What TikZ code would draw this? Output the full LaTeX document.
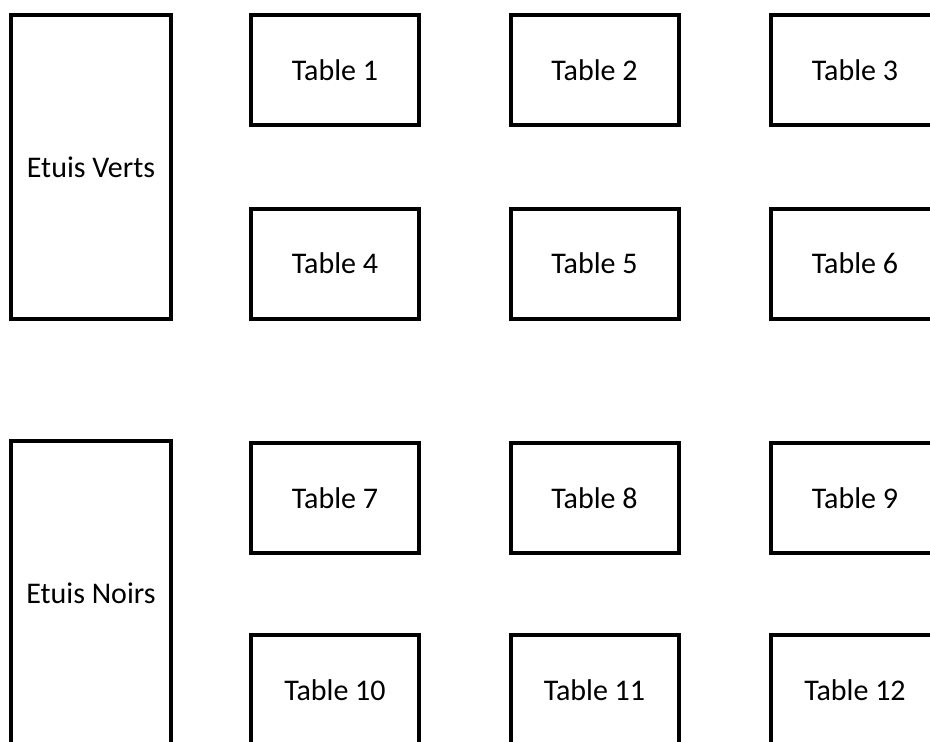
\documentclass[tikz,border=0pt]{standalone}
\usepackage{fontspec}
\setmainfont{Carlito}
\usepackage{tikz}
\usetikzlibrary{positioning}

\begin{document}
\begin{tikzpicture}[
  x=1pt, y=-1pt,
  tablebox/.style={draw, line width=4pt, minimum width=168pt, minimum height=110pt, inner sep=0pt},
  etuibox/.style={draw, line width=4pt, minimum width=160pt, minimum height=304pt, inner sep=0pt},
  every node/.style={font=\fontsize{30}{36}\selectfont}
]
\useasboundingbox (0,0) rectangle (930,742);
% cases
\node[etuibox] (verts) at (91,167) {Etuis Verts};
\node[etuibox] (noirs) at (91,593) {Etuis Noirs};
% tables
\node[tablebox] (t1) at (335,70) {Table 1};
\node[tablebox] (t2) at (594.5,70) {Table 2};
\node[tablebox] (t3) at (855,70) {Table 3};
\node[tablebox] (t4) at (335,263.5) {Table 4};
\node[tablebox] (t5) at (594.5,263.5) {Table 5};
\node[tablebox] (t6) at (855,263.5) {Table 6};
\node[tablebox] (t7) at (335,498) {Table 7};
\node[tablebox] (t8) at (594.5,498) {Table 8};
\node[tablebox] (t9) at (855,498) {Table 9};
\node[tablebox] (t10) at (335,690) {Table 10};
\node[tablebox] (t11) at (594.5,690) {Table 11};
\node[tablebox] (t12) at (855,690) {Table 12};
\end{tikzpicture}
\end{document}
